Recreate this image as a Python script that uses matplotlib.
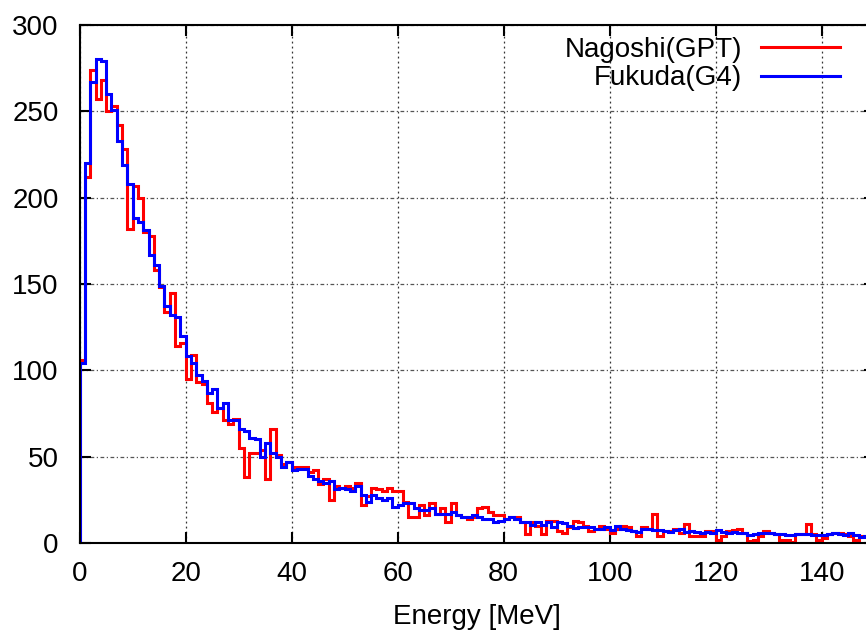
import matplotlib
matplotlib.use("Agg")
import matplotlib.pyplot as plt
import numpy as np

plt.rcParams['font.family'] = ['Liberation Sans', 'DejaVu Sans']

# 1 MeV bins starting at 0
nagoshi_gpt = [106, 212, 274, 257, 268, 250, 253, 242, 228, 182,
               207, 200, 180, 178, 158, 148, 134, 145, 114, 116,
               95, 109, 93, 92, 81, 76, 78, 71, 69, 72,
               55, 38, 52, 52, 54, 37, 66, 51, 46, 47,
               44, 44, 44, 41, 42, 34, 37, 25, 33, 32,
               33, 32, 35, 22, 27, 32, 31, 30, 32, 30,
               30, 24, 15, 15, 22, 16, 23, 17, 20, 12,
               23, 16, 15, 14, 15, 20, 21, 18, 16, 16,
               14, 15, 15, 12, 5, 12, 10, 5, 13, 13,
               7, 6, 9, 13, 12, 10, 7, 8, 10, 8,
               6, 8, 10, 9, 7, 4, 9, 8, 17, 4,
               7, 7, 8, 6, 11, 4, 4, 4, 7, 7,
               2, 4, 7, 7.5, 8, 6, 1, 2, 4, 7,
               6, 5, 2, 2, 0.3, 5, 5, 11, 5, 2,
               3, 5, 6, 6, 5, 4, 2, 4, 4]

fukuda_g4 = [104, 220, 267, 280, 279, 260, 251, 233, 219, 208,
             188, 186, 181, 167, 161, 149, 137, 132, 131, 120,
             108, 104, 97, 94, 87, 89, 78, 81, 71, 71,
             66, 65, 61, 60, 50, 58, 52, 50, 44, 47,
             42, 43, 43, 39, 37, 36, 35, 36, 31, 32,
             31, 30, 33, 28, 24, 28, 26, 25, 26, 21,
             22, 23, 23, 20, 19, 19, 20, 17, 17, 17,
             18, 16, 15, 15, 16, 15, 14, 14, 12, 13,
             14, 15, 14, 12, 12, 10.5, 12.4, 10.5, 12.4, 9.4,
             12.4, 11.4, 10, 8.5, 9.4, 9.4, 9.4, 8, 8, 9.4,
             7.5, 9.8, 8, 7.5, 7, 6.6, 8, 8, 7.5, 7.5,
             7, 6.6, 7.5, 8, 6.6, 7, 6.2, 5.6, 6.4, 6.0,
             7.5, 6.6, 5.6, 6.6, 5.6, 6.0, 4.6, 5.0, 6.0, 6.0,
             5.6, 5.2, 5.2, 4.6, 4.6, 5.0, 5.2, 5.2, 4.6, 4.6,
             4.6, 5.2, 6.0, 5.2, 4.6, 5.6, 4.6, 3.7, 4]

x_ticks = [0, 20, 40, 60, 80, 100, 120, 140]
y_ticks = [0, 50, 100, 150, 200, 250, 300]

edges = np.arange(len(nagoshi_gpt) + 1)

fig = plt.figure(figsize=(8.66, 6.31), dpi=100)
# the right part of the frame runs past the picture edge, as in the original crop
ax = fig.add_axes([0.092, 0.1395, 0.918, 0.821])

ax.stairs(nagoshi_gpt, edges, baseline=0, color='#ff0000', lw=2.2,
          label='Nagoshi(GPT)')
ax.stairs(fukuda_g4, edges, baseline=0, color='#0000ff', lw=2.2,
          label='Fukuda(G4)')

ax.set_xlim(0, 150)
ax.set_ylim(0, 300)
ax.set_xticks(x_ticks)
ax.set_yticks(y_ticks)

ax.set_axisbelow(True)
ax.xaxis.grid(True, color='#333333', linestyle=(0, (1.5, 2.5)), lw=0.9)
ax.yaxis.grid(True, color='#555555', linestyle=(0, (3, 2, 1, 2)), lw=0.9)

ax.tick_params(direction='in', length=8, width=1.5, top=True, right=True,
               labelsize=20)
ax.tick_params(axis='y', pad=15)
ax.tick_params(axis='x', pad=13)
for s in ax.spines.values():
    s.set_linewidth(1.5)

ax.set_xlabel('Energy [MeV]', fontsize=20, labelpad=12)

ax.legend(loc='upper right', bbox_to_anchor=(0.97, 0.942),
          bbox_transform=fig.transFigure, frameon=False, fontsize=20,
          markerfirst=False, handlelength=2.85, handletextpad=0.68,
          labelspacing=0.1, borderpad=0, borderaxespad=0)

fig.savefig('out.png', dpi=100)
